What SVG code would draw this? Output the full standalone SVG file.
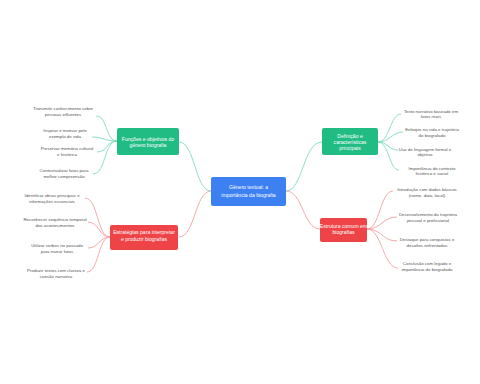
<svg xmlns="http://www.w3.org/2000/svg" width="480" height="384" viewBox="0 0 480 384">
<style>
.g{fill:#20BC84}
.r{fill:#EE4447}
.b{fill:#3C80F2}
.nt{font-family:"Liberation Sans",Arial,sans-serif;font-size:5.1px;fill:#fff;text-anchor:middle}
.lt{font-family:"Liberation Sans",Arial,sans-serif;font-size:4.4px;fill:#555;text-anchor:middle}
.cg{fill:none;stroke:#7EDDB8;stroke-width:0.9}
.cr{fill:none;stroke:#F5A0A3;stroke-width:0.9}
</style>
<rect width="480" height="384" fill="#fff"/>
<g id="connectors">
<path class="cg" d="M211 191 C195 191,195 142,179 142"/>
<path class="cr" d="M211 191 C195 191,195 237,179 237"/>
<path class="cg" d="M286 191 C303 191,303 142,322 142"/>
<path class="cr" d="M286 191 C303 191,303 229,320 229"/>
<path class="cg" d="M117 141 C105 141,108 116,96 116"/>
<path class="cg" d="M117 141 C104 141,104 137,92 137"/>
<path class="cg" d="M117 141 C106 141,108 152,97 152"/>
<path class="cg" d="M117 141 C104 141,106 174,93 174"/>
<path class="cg" d="M378 142 C390 142,390 114,401 114"/>
<path class="cg" d="M378 142 C390 142,392 132,403 132"/>
<path class="cg" d="M378 142 C388 142,388 150,398 150"/>
<path class="cg" d="M378 142 C389 142,389 170,399 170"/>
<path class="cr" d="M367 229 C380 229,380 191,393 191"/>
<path class="cr" d="M367 229 C382 229,382 217,397 217"/>
<path class="cr" d="M367 229 C382 229,382 241,397 241"/>
<path class="cr" d="M367 229 C382 229,383 268,398 268"/>
<path class="cr" d="M110 237 C97 237,98 198,85 198"/>
<path class="cr" d="M110 237 C99 237,99 222,88 222"/>
<path class="cr" d="M110 237 C99 237,99 248,88 248"/>
<path class="cr" d="M110 237 C98 237,99 272,87 272"/>
</g>
<g id="center">
<rect class="b" x="211" y="177" width="75" height="29" rx="2"/>
<text class="nt" x="248.5" y="189">Gênero textual: a</text>
<text class="nt" x="248.5" y="197">importância da biografia</text>
</g>
<g id="funcoes">
<rect class="g" x="117" y="128" width="62" height="27" rx="2"/>
<text class="nt" x="148" y="140.5">Funções e objetivos do</text>
<text class="nt" x="148" y="146.5">gênero biografia</text>
</g>
<g id="definicao">
<rect class="g" x="322" y="128" width="56" height="27" rx="2"/>
<text class="nt" x="350" y="137.5">Definição e</text>
<text class="nt" x="350" y="143.5">características</text>
<text class="nt" x="350" y="149.5">principais</text>
</g>
<g id="estrategias">
<rect class="r" x="110" y="225" width="68" height="25" rx="2"/>
<text class="nt" x="144" y="234">Estratégias para interpretar</text>
<text class="nt" x="144" y="241">e produzir biografias</text>
</g>
<g id="estrutura">
<rect class="r" x="320" y="218" width="47" height="24" rx="2"/>
<text class="nt" x="343.5" y="227.5">Estrutura comum em</text>
<text class="nt" x="343.5" y="234">biografias</text>
</g>
<g id="leaf-l1"><text class="lt" x="63" y="109.5">Transmitir conhecimento sobre</text><text class="lt" x="63" y="115.5">pessoas influentes</text></g>
<g id="leaf-l2"><text class="lt" x="65" y="131.5">Inspirar e motivar pelo</text><text class="lt" x="65" y="137.5">exemplo de vida</text></g>
<g id="leaf-l3"><text class="lt" x="67" y="149.5">Preservar memória cultural</text><text class="lt" x="67" y="156">e histórica</text></g>
<g id="leaf-l4"><text class="lt" x="64" y="171.5">Contextualizar fatos para</text><text class="lt" x="64" y="177.5">melhor compreensão</text></g>
<g id="leaf-l5"><text class="lt" x="52" y="196.5">Identificar ideias principais e</text><text class="lt" x="52" y="202.5">informações essenciais</text></g>
<g id="leaf-l6"><text class="lt" x="55" y="220.5">Reconhecer sequência temporal</text><text class="lt" x="55" y="226.5">dos acontecimentos</text></g>
<g id="leaf-l7"><text class="lt" x="57" y="246.5">Utilizar verbos no passado</text><text class="lt" x="57" y="252.5">para narrar fatos</text></g>
<g id="leaf-l8"><text class="lt" x="56" y="271.5">Produzir textos com clareza e</text><text class="lt" x="56" y="277.5">coesão narrativa</text></g>
<g id="leaf-r1"><text class="lt" x="431" y="112.5">Texto narrativo baseado em</text><text class="lt" x="431" y="118">fatos reais</text></g>
<g id="leaf-r2"><text class="lt" x="432" y="130.5">Enfoque na vida e trajetória</text><text class="lt" x="432" y="136.5">do biografado</text></g>
<g id="leaf-r3"><text class="lt" x="425" y="150.5">Uso de linguagem formal e</text><text class="lt" x="425" y="155.5">objetiva</text></g>
<g id="leaf-r4"><text class="lt" x="432" y="169.5">Importância do contexto</text><text class="lt" x="432" y="174.5">histórico e social</text></g>
<g id="leaf-r5"><text class="lt" x="427" y="190.5">Introdução com dados básicos</text><text class="lt" x="427" y="196.5">(nome, data, local)</text></g>
<g id="leaf-r6"><text class="lt" x="428" y="215.5">Desenvolvimento da trajetória</text><text class="lt" x="428" y="221.5">pessoal e profissional</text></g>
<g id="leaf-r7"><text class="lt" x="427" y="240.5">Destaque para conquistas e</text><text class="lt" x="427" y="246.5">desafios enfrentados</text></g>
<g id="leaf-r8"><text class="lt" x="427" y="264.5">Conclusão com legado e</text><text class="lt" x="427" y="270.5">importância do biografado</text></g>
</svg>
